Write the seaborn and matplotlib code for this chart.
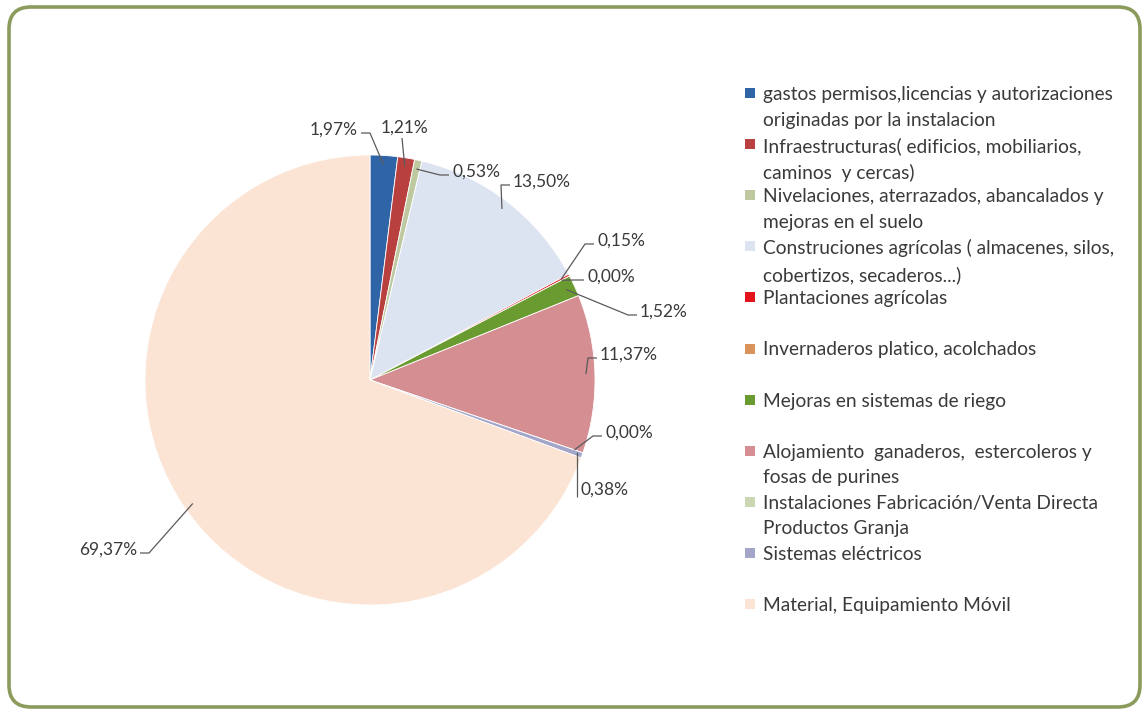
import numpy as np
import matplotlib
matplotlib.use("Agg")
import matplotlib.pyplot as plt
import seaborn as sns
from matplotlib.patches import FancyBboxPatch, Rectangle

# ---------------- data ----------------
categories = [
    "gastos permisos,licencias y autorizaciones\noriginadas por la instalacion",
    "Infraestructuras( edificios, mobiliarios,\ncaminos  y cercas)",
    "Nivelaciones, aterrazados, abancalados y\nmejoras en el suelo",
    "Construciones agrícolas ( almacenes, silos,\ncobertizos, secaderos...)",
    "Plantaciones agrícolas",
    "Invernaderos platico, acolchados",
    "Mejoras en sistemas de riego",
    "Alojamiento  ganaderos,  estercoleros y\nfosas de purines",
    "Instalaciones Fabricación/Venta Directa\nProductos Granja",
    "Sistemas eléctricos",
    "Material, Equipamiento Móvil",
]
values = [1.97, 1.21, 0.53, 13.50, 0.15, 0.00, 1.52, 11.37, 0.00, 0.38, 69.37]
value_labels = ["1,97%", "1,21%", "0,53%", "13,50%", "0,15%", "0,00%",
                "1,52%", "11,37%", "0,00%", "0,38%", "69,37%"]
colors = ["#2F65A7", "#B8413F", "#BFC9A0", "#DCE4F2", "#E3121B", "#D9925A",
          "#6A9B30", "#D58E92", "#C9D7B3", "#A4A6C9", "#FCE4D4"]

# ---------------- layout (pixels) ----------------
W, H = 1145, 710
CX, CY, R = 370, 380, 225

# label anchor (px), horizontal alignment, leader style
label_layout = [
    (358, 130, "right", "stub"),
    (404, 128, "center", "down"),
    (452, 172, "left", "stub"),
    (513, 182, "left", "stub"),
    (597, 241, "left", "stub"),
    (587, 277, "left", "stub"),
    (640, 312, "left", "stub"),
    (600, 355, "left", "stub"),
    (605, 433, "left", "stub"),
    (580, 490, "left", "vert"),
    (137, 550, "right", "stub"),
]

TEXT = "#3A3A3A"

sns.set_theme(style="white")
plt.rcParams["font.family"] = ["Lato", "DejaVu Sans"]


def u(x, y):
    """pixel -> pie units"""
    return (x - CX) / R, (CY - y) / R


fig = plt.figure(figsize=(W / 100, H / 100), dpi=100)
fig.patch.set_facecolor("white")
ax = fig.add_axes([0, 0, 1, 1])
ax.set_axis_off()

# frame
x0, y0 = u(9, 707)
frame = FancyBboxPatch((x0, y0), 1131 / R, 700 / R,
                       boxstyle="round,pad=0,rounding_size=%f" % (22 / R),
                       facecolor="white", edgecolor="#8B9B5C", linewidth=2.6,
                       zorder=0)
ax.add_patch(frame)

wedges, _ = ax.pie(values, colors=colors, startangle=90, counterclock=False,
                   radius=1, center=(0, 0),
                   wedgeprops=dict(edgecolor="white", linewidth=0.6))
for w in wedges:
    w.set_zorder(2)

ax.set_xlim(-CX / R, (W - CX) / R)
ax.set_ylim(-(H - CY) / R, CY / R)
ax.set_aspect("equal")

# data labels with leader lines
cum = np.cumsum([0] + values[:-1])
total = float(sum(values))
for i, (lab, (tx, ty, ha, style)) in enumerate(zip(value_labels, label_layout)):
    mid = 90 - 360 * (cum[i] + values[i] / 2) / total
    th = np.deg2rad(mid)
    ex, ey = 0.96 * np.cos(th), 0.96 * np.sin(th)
    px_, py_ = u(tx, ty)
    ax.text(px_, py_, lab, ha=ha, va="center", fontsize=12.5, color=TEXT, zorder=5)
    if style == "stub":
        sgn = -1 if ha == "left" else 1
        end = u(tx + sgn * 3, ty + 3)
        elbow = u(tx + sgn * 12, ty + 3)
        xs = [ex, elbow[0], end[0]]
        ys = [ey, elbow[1], end[1]]
    elif style == "down":
        end = u(tx - 2, ty + 10)
        xs = [ex, end[0]]
        ys = [ey, end[1]]
    else:  # vertical line to the left of text
        end = u(tx - 3, ty + 7)
        xs = [end[0], end[0]]
        ys = [ey, end[1]]
    ax.plot(xs, ys, color="#5A5A5A", linewidth=0.9, zorder=4,
            solid_capstyle="butt")

# legend
LX, LY0, STEP = 745, 93, 51.1
for i, (cat, col) in enumerate(zip(categories, colors)):
    ly = LY0 + i * STEP
    rx, ry = u(LX, ly + 5)
    ax.add_patch(Rectangle((rx, ry), 10 / R, 10 / R, facecolor=col,
                           edgecolor="none", zorder=3))
    tx, ty = u(LX + 18, ly - 7)
    ax.text(tx, ty, cat, ha="left", va="top", fontsize=13.8, color=TEXT,
            linespacing=1.62, zorder=3)

fig.savefig("out.png", dpi=100, facecolor="white")
